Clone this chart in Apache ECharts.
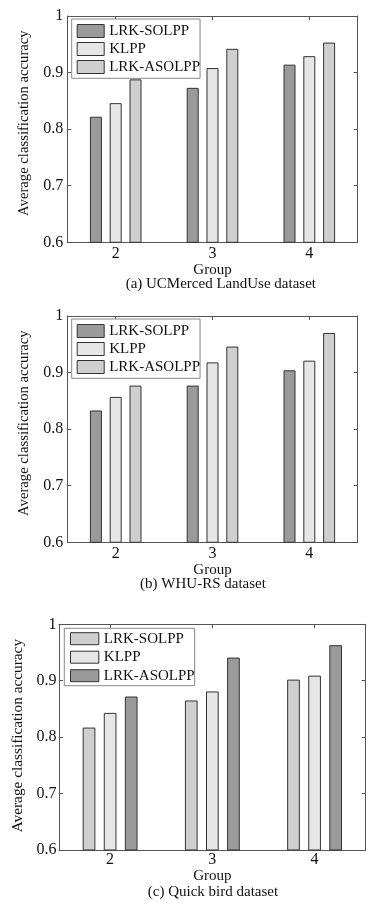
<!DOCTYPE html>
<html><head><meta charset="utf-8">
<script src="https://cdn.jsdelivr.net/npm/echarts@6/dist/echarts.min.js"></script>
<style>html,body{margin:0;padding:0;background:#fff}#c{width:391px;height:907px}</style>
</head><body><div id="c"></div>
<script>
// ---- data ----
const categories = ['2', '3', '4'];
const methodNames = ['LRK-SOLPP', 'KLPP', 'LRK-ASOLPP'];
const yTicks = [0.6, 0.7, 0.8, 0.9, 1];
const captions = ['(a) UCMerced LandUse dataset', '(b) WHU-RS dataset', '(c) Quick bird dataset'];
const xTitle = 'Group';
const yTitle = 'Average classification accuracy';

const ucmSolpp  = [0.822, 0.873, 0.914];
const ucmKlpp   = [0.846, 0.908, 0.929];
const ucmAsolpp = [0.888, 0.942, 0.953];

const whuSolpp  = [0.833, 0.877, 0.904];
const whuKlpp   = [0.857, 0.918, 0.921];
const whuAsolpp = [0.877, 0.946, 0.970];

const qbSolpp  = [0.817, 0.865, 0.902];
const qbKlpp   = [0.843, 0.881, 0.909];
const qbAsolpp = [0.872, 0.941, 0.963];

// ---- styling / layout ----
const DARK = '#9a9a9a', LIGHT = '#e6e6e6', MID = '#cfcfcf';
const FONT = "'Liberation Serif', 'Times New Roman', serif";
const AX = '#555';

const panels = [
  { values: [ucmSolpp, ucmKlpp, ucmAsolpp], colors: [DARK, LIGHT, MID],
    grid: { left: 67.3, top: 16, width: 290.4, height: 226.3 },
    barWidth: 12, barGap: '65%', xLabelMargin: 3, yLabelMargin: 4,
    xNameGap: 18.5, yNameGap: 36, yNameFont: 14.7, yNameShift: 12,
    legend: { left: 71.7, top: 19, itemWidth: 27, itemHeight: 13, itemGap: 3, itemTextGap: 5, padding: [4.5, 0, 3.8, 5] },
    caption: { left: 220.8, top: 276.4 } },
  { values: [whuSolpp, whuKlpp, whuAsolpp], colors: [DARK, LIGHT, MID],
    grid: { left: 67.3, top: 316, width: 290.4, height: 226.3 },
    barWidth: 12, barGap: '65%', xLabelMargin: 3, yLabelMargin: 4,
    xNameGap: 18.5, yNameGap: 36, yNameFont: 14.7, yNameShift: 12,
    legend: { left: 71.7, top: 319, itemWidth: 27, itemHeight: 13, itemGap: 3, itemTextGap: 5, padding: [4.5, 0, 3.8, 5] },
    caption: { left: 203, top: 576.4 } },
  { values: [qbSolpp, qbKlpp, qbAsolpp], colors: [MID, LIGHT, DARK],
    grid: { left: 59, top: 624.3, width: 306.7, height: 225.7 },
    barWidth: 12.7, barGap: '66%', xLabelMargin: 2, yLabelMargin: 2.5,
    xNameGap: 14.5, yNameGap: 27.7, yNameFont: 15.3, yNameShift: 3,
    legend: { left: 64.3, top: 628.3, itemWidth: 28.3, itemHeight: 12, itemGap: 3.5, itemTextGap: 4.5, padding: [2.9, 0, 2.5, 5.7] },
    caption: { left: 213, top: 885 } }
];

const suffix = ['#a', '#b', '#c'];
const grids = [], xAxes = [], yAxes = [], series = [], legends = [], titles = [];

panels.forEach((p, i) => {
  grids.push(Object.assign({ containLabel: false }, p.grid));
  // bottom axis
  xAxes.push({
    type: 'category', gridIndex: i, data: categories, position: 'bottom',
    boundaryGap: true,
    axisLine: { show: true, lineStyle: { color: AX, width: 1 } },
    axisTick: { show: true, inside: true, length: 4, alignWithLabel: true, lineStyle: { color: AX } },
    axisLabel: { margin: p.xLabelMargin, fontFamily: FONT, fontSize: 16, color: '#111' },
    splitLine: { show: false },
    name: xTitle, nameLocation: 'middle', nameGap: p.xNameGap,
    nameTextStyle: { fontFamily: FONT, fontSize: 15, color: '#111' }
  });
  // top frame axis
  xAxes.push({
    type: 'category', gridIndex: i, data: categories, position: 'top',
    boundaryGap: true,
    axisLine: { show: true, lineStyle: { color: AX, width: 1 } },
    axisTick: { show: true, inside: true, length: 4, alignWithLabel: true, lineStyle: { color: AX } },
    axisLabel: { show: false }, splitLine: { show: false }
  });
  yAxes.push({
    type: 'value', gridIndex: i, position: 'left',
    min: yTicks[0], max: yTicks[yTicks.length - 1], interval: 0.1,
    axisLine: { show: true, lineStyle: { color: AX, width: 1 } },
    axisTick: { show: true, inside: true, length: 4, lineStyle: { color: AX } },
    axisLabel: { margin: p.yLabelMargin, fontFamily: FONT, fontSize: 16, color: '#111' },
    splitLine: { show: false },
    name: yTitle, nameLocation: 'middle', nameGap: p.yNameGap,
    nameTextStyle: { fontFamily: FONT, fontSize: p.yNameFont, color: '#111', padding: [0, 0, 0, p.yNameShift] }
  });
  yAxes.push({
    type: 'value', gridIndex: i, position: 'right',
    min: yTicks[0], max: yTicks[yTicks.length - 1], interval: 0.1,
    axisLine: { show: true, lineStyle: { color: AX, width: 1 } },
    axisTick: { show: true, inside: true, length: 4, lineStyle: { color: AX } },
    axisLabel: { show: false }, splitLine: { show: false }
  });
  methodNames.forEach((m, k) => {
    series.push({
      type: 'bar', name: m + suffix[i],
      xAxisIndex: i * 2, yAxisIndex: i * 2,
      data: p.values[k],
      barWidth: p.barWidth, barGap: p.barGap,
      itemStyle: { color: p.colors[k], borderColor: '#333', borderWidth: 1 },
      emphasis: { disabled: true }
    });
  });
  legends.push(Object.assign({
    orient: 'vertical', selectedMode: false,
    data: methodNames.map(m => m + suffix[i]),
    formatter: n => n.split('#')[0],
    icon: 'rect',
    itemStyle: { borderColor: '#333', borderWidth: 1 },
    backgroundColor: '#fff', borderColor: '#888', borderWidth: 1,
    textStyle: { fontFamily: FONT, fontSize: 15, color: '#111' }
  }, p.legend));
  titles.push({
    text: captions[i], left: p.caption.left, top: p.caption.top, textAlign: 'center', padding: 0,
    textStyle: { fontFamily: FONT, fontSize: 15, fontWeight: 'normal', color: '#111' }
  });
});

const chart = echarts.init(document.getElementById('c'), null, { renderer: 'canvas' });
chart.setOption({
  animation: false,
  backgroundColor: '#fff',
  title: titles,
  grid: grids,
  xAxis: xAxes,
  yAxis: yAxes,
  legend: legends,
  series: series
});
</script>
</body></html>
